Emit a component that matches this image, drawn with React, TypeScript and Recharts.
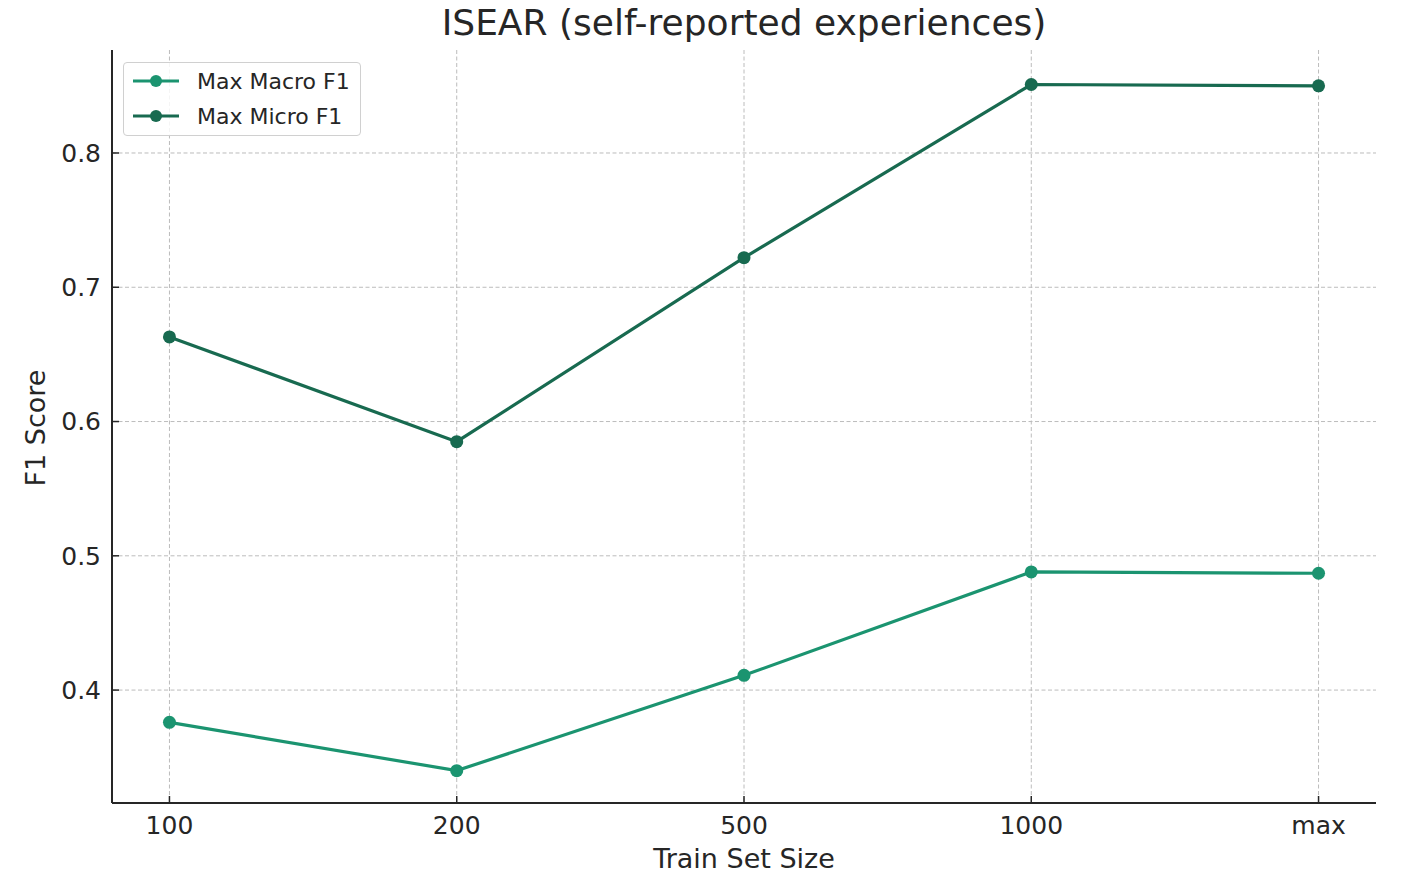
import { CartesianGrid, Label, Line, LineChart, XAxis, YAxis } from "recharts";

const sizes = ["100", "200", "500", "1000", "max"];
const macroF1 = [0.376, 0.340, 0.411, 0.488, 0.487];
const microF1 = [0.663, 0.585, 0.722, 0.851, 0.850];
const yTicks = [0.4, 0.5, 0.6, 0.7, 0.8];
const xTicks = [0, 1, 2, 3, 4];

const MACRO = "#1b9470";
const MICRO = "#186a50";
const INK = "#262626";
const FONT = "'DejaVu Sans', sans-serif";

const data = sizes.map((size, i) => ({
  idx: i,
  size,
  macro: macroF1[i],
  micro: microF1[i],
}));

const legendItems = [
  { name: "Max Macro F1", color: MACRO },
  { name: "Max Micro F1", color: MICRO },
];

function ChartLegend() {
  return (
    <div
      style={{
        position: "absolute",
        left: 123,
        top: 62,
        width: 236,
        height: 72,
        border: "1.5px solid #d0d0d0",
        borderRadius: 4,
        background: "rgba(255,255,255,0.85)",
        fontFamily: FONT,
        fontSize: 22,
        color: INK,
      }}
    >
      {legendItems.map((item, i) => (
        <div
          key={item.name}
          style={{
            position: "absolute",
            left: 8,
            top: 5 + i * 35,
            height: 26,
            display: "flex",
            alignItems: "center",
            whiteSpace: "nowrap",
          }}
        >
          <svg width={48} height={24} style={{ marginRight: 17 }}>
            <line x1={1} x2={47} y1={12} y2={12} stroke={item.color} strokeWidth={3} />
            <circle cx={24} cy={12} r={6} fill={item.color} />
          </svg>
          <span>{item.name}</span>
        </div>
      ))}
    </div>
  );
}

export default function App() {
  return (
    <div style={{ position: "relative", width: 1414, height: 884, background: "#fff" }}>
      <style>{"body { margin: 0; }"}</style>
      <div
        style={{
          position: "absolute",
          left: 0,
          width: 1488,
          top: 2,
          textAlign: "center",
          fontFamily: FONT,
          fontSize: 36,
          color: INK,
        }}
      >
        ISEAR (self-reported experiences)
      </div>
      <LineChart
        width={1414}
        height={884}
        data={data}
        margin={{ top: 50, right: 38, bottom: 41, left: 52 }}
        style={{ fontFamily: FONT }}
      >
        <CartesianGrid
          stroke="#bcbcbc"
          strokeDasharray="4 2.5"
          strokeWidth={1}
          horizontalValues={yTicks}
          verticalValues={xTicks}
        />
        <XAxis
          dataKey="idx"
          type="number"
          domain={[-0.2, 4.2]}
          ticks={xTicks}
          tickFormatter={(v) => sizes[Number(v)] ?? ""}
          height={40}
          tickSize={-7}
          tickMargin={20}
          tick={{ fill: INK, fontSize: 25 }}
          tickLine={{ stroke: INK, strokeWidth: 1.5 }}
          axisLine={{ stroke: INK, strokeWidth: 2 }}
        >
          <Label
            content={() => (
              <text
                x={744}
                y={858}
                textAnchor="middle"
                dominantBaseline="central"
                fontSize={27}
                fill={INK}
                fontFamily={FONT}
              >
                Train Set Size
              </text>
            )}
          />
        </XAxis>
        <YAxis
          type="number"
          domain={[0.3159, 0.8767]}
          ticks={yTicks}
          allowDataOverflow
          tickFormatter={(v) => Number(v).toFixed(1)}
          width={60}
          tickSize={-7}
          tickMargin={18}
          tick={{ fill: INK, fontSize: 25 }}
          tickLine={{ stroke: INK, strokeWidth: 1.5 }}
          axisLine={{ stroke: INK, strokeWidth: 2 }}
        >
          <Label
            content={() => (
              <text
                x={35}
                y={428}
                transform="rotate(-90 35 428)"
                textAnchor="middle"
                dominantBaseline="central"
                fontSize={27}
                fill={INK}
                fontFamily={FONT}
              >
                F1 Score
              </text>
            )}
          />
        </YAxis>
        <Line
          dataKey="macro"
          name="Max Macro F1"
          stroke={MACRO}
          strokeWidth={3.2}
          dot={{ r: 6.5, fill: MACRO, stroke: MACRO, strokeWidth: 0 }}
          activeDot={false}
          isAnimationActive={false}
        />
        <Line
          dataKey="micro"
          name="Max Micro F1"
          stroke={MICRO}
          strokeWidth={3.2}
          dot={{ r: 6.5, fill: MICRO, stroke: MICRO, strokeWidth: 0 }}
          activeDot={false}
          isAnimationActive={false}
        />
      </LineChart>
      <ChartLegend />
    </div>
  );
}
